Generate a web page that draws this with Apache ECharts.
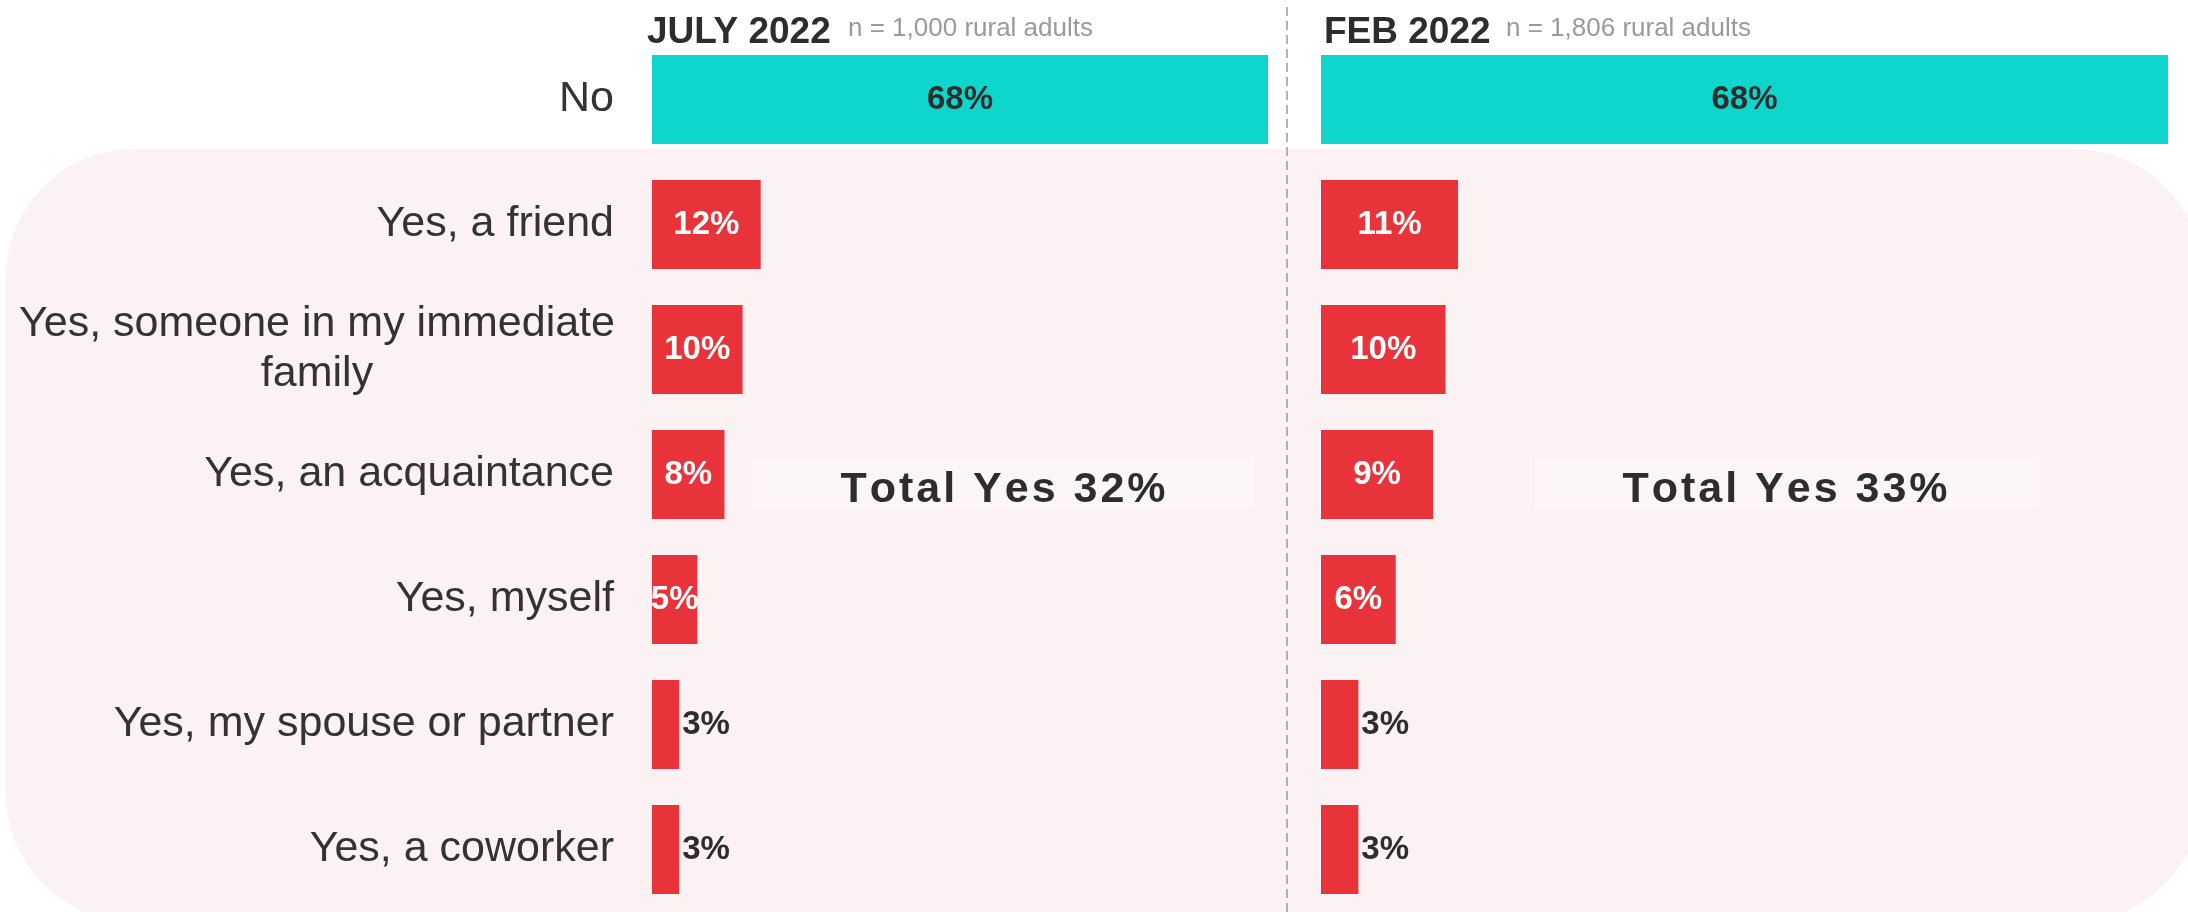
<!DOCTYPE html>
<html>
<head>
<meta charset="utf-8">
<script src="https://cdn.jsdelivr.net/npm/echarts@6/dist/echarts.min.js"></script>
<style>
html,body{margin:0;padding:0;background:#fff;}
#chart{width:2188px;height:912px;}
</style>
</head>
<body>
<div id="chart"></div>
<script>
// ---- data ----
const categories = [
  'No',
  'Yes, a friend',
  'Yes, someone in my immediate\nfamily',
  'Yes, an acquaintance',
  'Yes, myself',
  'Yes, my spouse or partner',
  'Yes, a coworker'
];
const july2022 = [68, 12, 10, 8, 5, 3, 3];
const feb2022 = [68, 11, 10, 9, 6, 3, 3];
const panelTitles = ['JULY 2022', 'FEB 2022'];
const sampleNotes = ['n = 1,000 rural adults', 'n = 1,806 rural adults'];
const totalYes = [32, 33];

// ---- styles ----
const FONT = '"Liberation Sans", Arial, Helvetica, sans-serif';
const TEAL = '#0fd6cc';
const RED = '#e8333a';
const DARK = '#2d2d2d';
const PINK = '#fcf2f3';

const chart = echarts.init(document.getElementById('chart'), null, {renderer: 'canvas'});

function makeSeries(idx, values) {
  return {
    type: 'bar',
    xAxisIndex: idx,
    yAxisIndex: idx,
    barWidth: 89,
    z: 3,
    data: values.map((v, i) => ({
      value: v,
      itemStyle: {color: i === 0 ? TEAL : RED},
      label: v <= 3
        ? {show: true, position: 'right', distance: 3, color: DARK}
        : {show: true, position: 'inside', color: i === 0 ? DARK : '#ffffff'}
    })),
    label: {
      show: true,
      formatter: p => p.value + '%',
      fontFamily: FONT,
      fontWeight: 'bold',
      fontSize: 33
    }
  };
}

// spaced text: each character as a rich token with side padding (letter spacing)
function spaced(str) {
  return str.split('').map(ch => '{s|' + (ch === ' ' ? '\u00a0' : ch) + '}').join('');
}

const labelRich = {
  c: {width: 594, align: 'center', fontSize: 43, lineHeight: 50, color: '#333', fontFamily: FONT}
};

function totalText(x, val) {
  return {
    type: 'text', z: 5, silent: true,
    style: {
      x: x, y: 490,
      text: spaced('Total Yes ' + val + '%'),
      align: 'center', verticalAlign: 'middle',
      textAlign: 'center', textVerticalAlign: 'middle',
      rich: {s: {fontFamily: FONT, fontWeight: 'bold', fontSize: 43, color: DARK, fill: DARK, padding: [0, 1.5, 0, 1.5]}}
    }
  };
}

const option = {
  animation: false,
  backgroundColor: '#ffffff',
  grid: [
    {left: 652, width: 616, top: 37, height: 877},
    {left: 1321, width: 847, top: 37, height: 877}
  ],
  xAxis: [
    {gridIndex: 0, type: 'value', min: 0, max: 68, show: false},
    {gridIndex: 1, type: 'value', min: 0, max: 68, show: false}
  ],
  yAxis: [
    {
      gridIndex: 0, type: 'category', inverse: true, data: categories,
      axisLine: {show: false}, axisTick: {show: false}, splitLine: {show: false},
      axisLabel: {
        margin: 38, fontSize: 43, color: '#333', fontFamily: FONT, lineHeight: 50,
        formatter: v => v.indexOf('\n') >= 0 ? v.split('\n').map(s => '{c|' + s + '}').join('\n') : v,
        rich: labelRich
      }
    },
    {
      gridIndex: 1, type: 'category', inverse: true, data: categories,
      axisLine: {show: false}, axisTick: {show: false}, splitLine: {show: false},
      axisLabel: {show: false}
    }
  ],
  graphic: [
    {type: 'rect', z: 0, silent: true, shape: {x: 6, y: 149, width: 2196, height: 773, r: 128}, style: {fill: PINK}},
    {type: 'line', z: 1, silent: true, shape: {x1: 1287, y1: 7, x2: 1287, y2: 912}, style: {stroke: '#9a9a9a', lineWidth: 1.5, lineDash: [9, 5]}},
    {type: 'text', z: 5, style: {x: 647, y: 33, text: panelTitles[0], font: 'bold 37px ' + FONT, fill: DARK, textAlign: 'left', textVerticalAlign: 'middle'}},
    {type: 'text', z: 5, style: {x: 848, y: 29, text: sampleNotes[0], font: '26px ' + FONT, fill: '#9a9a9a', textAlign: 'left', textVerticalAlign: 'middle'}},
    {type: 'text', z: 5, style: {x: 1324, y: 33, text: panelTitles[1], font: 'bold 37px ' + FONT, fill: DARK, textAlign: 'left', textVerticalAlign: 'middle'}},
    {type: 'text', z: 5, style: {x: 1506, y: 29, text: sampleNotes[1], font: '26px ' + FONT, fill: '#9a9a9a', textAlign: 'left', textVerticalAlign: 'middle'}},
    {type: 'rect', z: 1, silent: true, shape: {x: 752, y: 457, width: 502, height: 51}, style: {fill: '#fdf6f6'}},
    {type: 'rect', z: 1, silent: true, shape: {x: 1535, y: 457, width: 504, height: 51}, style: {fill: '#fdf6f6'}},
    totalText(1003, totalYes[0]),
    totalText(1785, totalYes[1])
  ],
  series: [makeSeries(0, july2022), makeSeries(1, feb2022)]
};

chart.setOption(option);
</script>
</body>
</html>
